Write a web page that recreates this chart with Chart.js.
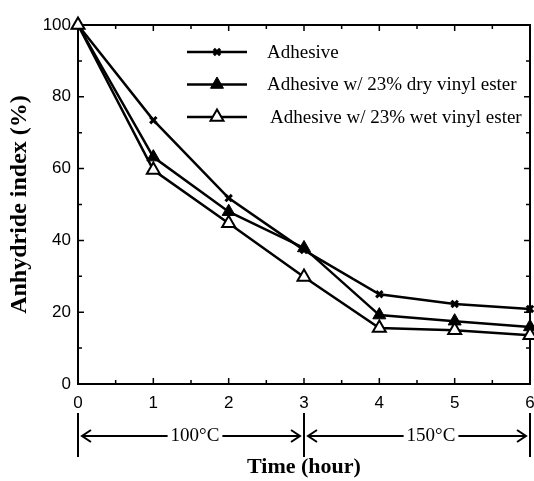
<!DOCTYPE html>
<html>
<head>
<meta charset="utf-8">
<script src="https://cdn.jsdelivr.net/npm/chart.js@4"></script>
<style>
  html, body { margin: 0; padding: 0; background: #fff; }
  #wrap { width: 534px; height: 481px; }
</style>
</head>
<body>
<div id="wrap"><canvas id="c"></canvas></div>
<script>
// values
const hours = [0, 1, 2, 3, 4, 5, 6];
const adhesive = [100, 73.5, 51.8, 37.3, 25, 22.3, 20.9];
const dryVinyl = [100, 63.2, 48, 37.9, 19.2, 17.5, 15.9];
const wetVinyl = [100, 59.6, 44.8, 29.8, 15.6, 15, 13.6];
const seriesLabels = ['Adhesive', 'Adhesive w/ 23% dry vinyl ester', 'Adhesive w/ 23% wet vinyl ester'];
const stageBounds = [0, 3, 6];
const stageLabels = ['100°C', '150°C'];

const toPts = arr => arr.map((v, i) => ({ x: hours[i], y: v }));

// box around the plot with inward ticks on all four sides
const framePlugin = {
  id: 'frame',
  beforeDatasetsDraw(chart) {
    const { ctx, chartArea: a, scales } = chart;
    ctx.save();
    ctx.strokeStyle = '#000';
    ctx.lineWidth = 2;
    ctx.strokeRect(a.left, a.top, a.right - a.left, a.bottom - a.top);
    ctx.lineWidth = 1.5;
    ctx.beginPath();
    for (let h = 0.5; h < 6; h += 0.5) {
      const x = scales.x.getPixelForValue(h);
      const len = h % 1 === 0 ? 6 : 4;
      ctx.moveTo(x, a.bottom); ctx.lineTo(x, a.bottom - len);
      ctx.moveTo(x, a.top); ctx.lineTo(x, a.top + len);
    }
    for (let v = 10; v < 100; v += 10) {
      const y = scales.y.getPixelForValue(v);
      const len = v % 20 === 0 ? 6 : 4;
      ctx.moveTo(a.left, y); ctx.lineTo(a.left + len, y);
      ctx.moveTo(a.right, y); ctx.lineTo(a.right - len, y);
    }
    ctx.stroke();
    ctx.restore();
  }
};

// legend drawn as line + marker + label inside the plot
const legendPlugin = {
  id: 'lineLegend',
  afterDraw(chart) {
    const { ctx } = chart;
    const textX = [267, 267, 270];
    chart.data.datasets.forEach((ds, i) => {
      const y = 52 + i * 32.5;
      ctx.save();
      ctx.strokeStyle = '#000';
      ctx.lineWidth = ds.borderWidth;
      ctx.beginPath();
      ctx.moveTo(187, y); ctx.lineTo(247, y);
      ctx.stroke();
      ctx.fillStyle = ds.pointBackgroundColor;
      ctx.lineWidth = ds.pointBorderWidth;
      Chart.helpers.drawPoint(ctx, {
        pointStyle: ds.pointStyle, radius: ds.pointRadius,
        borderWidth: ds.pointBorderWidth, rotation: 0
      }, 217, y);
      ctx.fillStyle = '#000';
      ctx.font = '19px "Liberation Serif"';
      ctx.textBaseline = 'middle';
      ctx.textAlign = 'left';
      ctx.fillText(ds.label, textX[i], y + 1);
      ctx.restore();
    });
  }
};

// temperature stages under the x axis
const stagePlugin = {
  id: 'stages',
  afterDraw(chart) {
    const { ctx, scales } = chart;
    const xs = stageBounds.map(b => scales.x.getPixelForValue(b));
    const yTop = 413, yBot = 457, yMid = 436;
    const nudge = [4, 14];
    ctx.save();
    ctx.strokeStyle = '#000';
    ctx.fillStyle = '#000';
    ctx.lineWidth = 2;
    ctx.beginPath();
    xs.forEach(x => { ctx.moveTo(x, yTop); ctx.lineTo(x, yBot); });
    ctx.stroke();
    ctx.font = '19px "Liberation Serif"';
    ctx.textAlign = 'center';
    ctx.textBaseline = 'middle';
    stageLabels.forEach((lab, i) => {
      const x0 = xs[i] + 4, x1 = xs[i + 1] - 4;
      const cx = (xs[i] + xs[i + 1]) / 2 + nudge[i];
      const w = ctx.measureText(lab).width / 2 + 3;
      ctx.fillText(lab, cx, yMid);
      ctx.lineWidth = 2;
      ctx.beginPath();
      ctx.moveTo(x0, yMid); ctx.lineTo(cx - w, yMid);
      ctx.moveTo(cx + w, yMid); ctx.lineTo(x1, yMid);
      // arrow heads
      ctx.moveTo(x0 + 9, yMid - 6); ctx.lineTo(x0, yMid); ctx.lineTo(x0 + 9, yMid + 6);
      ctx.moveTo(x1 - 9, yMid - 6); ctx.lineTo(x1, yMid); ctx.lineTo(x1 - 9, yMid + 6);
      ctx.stroke();
    });
    ctx.restore();
  }
};

const tickFont = { family: '"Liberation Sans", Arial', size: 17 };
const titleFont = { family: '"Liberation Serif", "Times New Roman"', size: 22, weight: 'bold' };

new Chart(document.getElementById('c'), {
  type: 'line',
  data: {
    datasets: [
      {
        label: seriesLabels[0], data: toPts(adhesive), clip: false, order: 2,
        borderColor: '#000', borderWidth: 2.5,
        pointStyle: 'crossRot', pointRadius: 4.5, pointBorderWidth: 3,
        pointBackgroundColor: '#000', pointBorderColor: '#000'
      },
      {
        label: seriesLabels[1], data: toPts(dryVinyl), clip: false, order: 1,
        borderColor: '#000', borderWidth: 2.5,
        pointStyle: 'triangle', pointRadius: 7.5, pointBorderWidth: 1,
        pointBackgroundColor: '#000', pointBorderColor: '#000'
      },
      {
        label: seriesLabels[2], data: toPts(wetVinyl), clip: false, order: 0,
        borderColor: '#000', borderWidth: 2.5,
        pointStyle: 'triangle', pointRadius: 7.5, pointBorderWidth: 2,
        pointBackgroundColor: '#fff', pointBorderColor: '#000'
      }
    ]
  },
  options: {
    responsive: true,
    maintainAspectRatio: false,
    animation: false,
    layout: { autoPadding: false, padding: { left: 0, right: 4, top: 25, bottom: 0 } },
    plugins: { legend: { display: false }, tooltip: { enabled: false } },
    elements: { line: { tension: 0 } },
    scales: {
      x: {
        type: 'linear', min: 0, max: 6,
        afterFit(s) { s.height = 97; s.paddingLeft = 0; s.paddingRight = 0; },
        grid: { display: false, drawTicks: false },
        border: { display: false },
        ticks: { stepSize: 1, padding: 9, color: '#000', font: tickFont },
        title: { display: true, text: 'Time (hour)', color: '#000', font: titleFont, padding: { top: 0, bottom: 0 } }
      },
      y: {
        min: 0, max: 100,
        afterFit(s) { s.width = 78; },
        grid: { display: false, drawTicks: false },
        border: { display: false },
        ticks: { stepSize: 20, padding: 7, color: '#000', font: tickFont },
        title: {
          display: true, text: 'Anhydride index (%)', color: '#000',
          font: { ...titleFont, size: 24 }, padding: { top: 5, bottom: 0 }
        }
      }
    }
  },
  plugins: [framePlugin, legendPlugin, stagePlugin]
});
</script>
</body>
</html>
